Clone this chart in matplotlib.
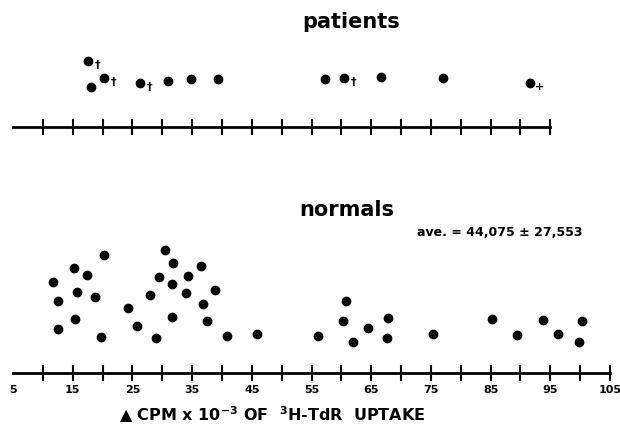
import numpy as np
import matplotlib.pyplot as plt

# patients: CPM x 10^-3 and stacking height (px above the axis line)
pat_cpm = [17.6, 18.1, 20.2, 26.3, 31.0, 34.8, 39.3, 57.3, 60.4, 66.6, 77.0, 91.6]
pat_h = [66, 40, 49, 44, 46, 48, 48, 48, 49, 50, 49, 44]
pat_mark = ["†", "", "†", "†", "", "", "", "", "†", "", "", "+"]

# normals
norm_cpm = [11.7, 12.5, 12.5, 15.2, 15.7, 15.4, 17.4, 18.7, 20.2, 19.7,
            24.3, 25.8, 30.5, 31.8, 29.5, 31.6, 28.0, 29.0, 34.3, 36.5,
            34.0, 38.8, 36.8, 31.6, 37.5, 40.8, 45.9, 56.1, 60.8, 60.3,
            62.0, 64.5, 67.8, 67.6, 75.4, 85.2, 89.4, 93.8, 96.3, 100.3, 99.8]
norm_h = [91, 72, 44, 105, 81, 54, 98, 76, 118, 36,
          65, 47, 123, 110, 96, 89, 78, 35, 97, 107,
          80, 83, 69, 56, 52, 37, 39, 37, 72, 52,
          31, 45, 55, 35, 39, 54, 38, 53, 39, 52, 31]

label_ticks = np.arange(5, 106, 10)
W, H = 620, 427
xlim = (5 - 13 / 5.97, 5 + 607 / 5.97)

fig = plt.figure(figsize=(W / 100, H / 100), dpi=100)
ax_p = fig.add_axes([0, (H - 128) / H, 1, 78 / H])
ax_n = fig.add_axes([0, (H - 374) / H, 1, 134 / H])

for ax in (ax_p, ax_n):
    ax.set_xlim(*xlim)
    for s in ("top", "left", "right"):
        ax.spines[s].set_visible(False)
    ax.spines["bottom"].set_linewidth(2)
    ax.set_yticks([])
    ax.patch.set_alpha(0)
    ax.xaxis.remove_overlapping_locs = False

# patients panel
ax_p.set_ylim(0, 78)
ax_p.spines["bottom"].set_bounds(5, 95)
ax_p.set_xticks(np.arange(10, 96, 5))
ax_p.set_xticklabels([])
ax_p.tick_params(axis="x", direction="inout", length=11, width=1.5)
ax_p.plot(pat_cpm, pat_h, "o", color="black", ms=6, clip_on=False)
for x, y, m in zip(pat_cpm, pat_h, pat_mark):
    if m:
        ax_p.annotate(m, (x, y), xytext=(7, -2), textcoords="offset points",
                      ha="center", va="center", fontsize=8, fontweight="bold")

# normals panel
ax_n.set_ylim(0, 134)
ax_n.spines["bottom"].set_bounds(5, 105)
ax_n.set_xticks(label_ticks)
ax_n.set_xticklabels([str(t) for t in label_ticks], fontweight="bold", fontsize=8)
ax_n.set_xticks(np.arange(10, 106, 5), minor=True)
ax_n.tick_params(axis="x", which="major", length=0, pad=8)
ax_n.tick_params(axis="x", which="minor", direction="inout", length=11, width=1.5)
ax_n.plot(norm_cpm, norm_h, "o", color="black", ms=6, clip_on=False)

fig.text(351 / W, 1 - 22 / H, "patients", ha="center", va="center",
         fontsize=15, fontweight="bold")
fig.text(347 / W, 1 - 210 / H, "normals", ha="center", va="center",
         fontsize=15, fontweight="bold")
fig.text(500 / W, 1 - 233 / H, "ave. = 44,075 ± 27,553", ha="center", va="center",
         fontsize=9, fontweight="bold")
fig.text(272 / W, 1 - 415 / H,
         r"▲ CPM x 10$^{\mathbf{-3}}$ OF  $^{\mathbf{3}}$H-TdR  UPTAKE",
         ha="center", va="center", fontsize=11.5, fontweight="bold")

fig.savefig("out.png", dpi=100)
